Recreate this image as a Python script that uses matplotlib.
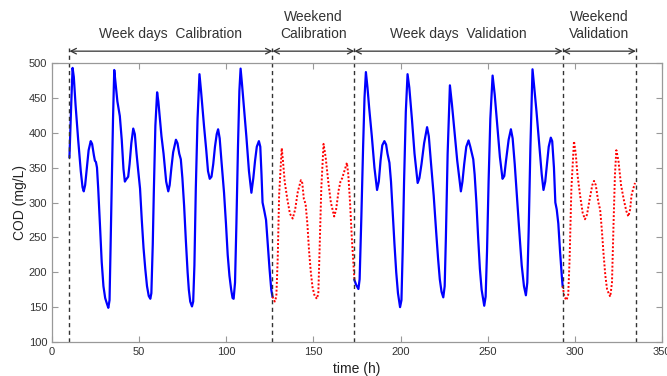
import matplotlib
matplotlib.use("Agg")
import matplotlib.pyplot as plt

plt.rcParams['font.family'] = ['Liberation Sans', 'DejaVu Sans']

# ---- data ----
calib_week_t = [10, 11, 11.8, 12.5, 13.5, 15, 16.5, 17.5, 18.2, 19, 20, 21, 22.2, 23, 24, 24.6, 25.2, 25.8,
                26.5, 27.5, 28.5, 29.5, 30.5, 31.5, 32.3, 33, 33.6, 34.3, 35, 35.7,
                36.5, 37.5, 38.9, 40, 41, 41.8, 42.5, 43.7, 44.5, 45.5, 46.6, 47.5, 48.5, 49.4, 50.5, 51.5,
                52.5, 53.5, 54.5, 55.5, 56.4, 57, 57.8, 58.4, 59.3, 60.3,
                61, 62.8, 64, 65.5, 66.7, 67.5, 68.5, 69.5, 71.1, 72, 73, 73.9, 74.8, 75.8, 76.8, 77.8, 78.5,
                79.3, 80.3, 81, 81.7, 82.5, 83.5, 84.6,
                85.5, 87.2, 88.5, 89.5, 90.5, 91.5, 92.5, 93.5, 94.5, 95.3, 96.2, 97.2, 98.7, 99.8, 100.8,
                101.8, 102.8, 103.6, 104.2, 105, 105.8, 106.7, 107.5, 108.2,
                109, 110, 111.5, 113, 114.4, 115.5, 116.5, 117.5, 118.7, 119.5, 120.2, 120.8, 121.8, 122.8,
                123.8, 124.8, 125.8, 126.5]
calib_week_v = [365, 440, 493, 480, 440, 390, 345, 322, 316, 325, 350, 375, 388, 384, 368, 360, 358, 350,
                320, 268, 215, 180, 163, 155, 149, 160, 237, 330, 420, 490,
                470, 445, 424, 390, 348, 330, 333, 337, 355, 385, 406, 398, 370, 347, 320, 275,
                235, 205, 180, 166, 162, 170, 240, 314, 410, 458,
                445, 395, 370, 330, 316, 325, 350, 372, 390, 385, 370, 362, 335, 295, 245, 200, 175,
                158, 151, 158, 210, 320, 420, 484,
                460, 410, 375, 345, 334, 337, 355, 380, 398, 405, 392, 360, 314, 270, 225,
                195, 175, 163, 162, 185, 270, 380, 460, 492,
                470, 440, 395, 345, 314, 335, 360, 380, 388, 380, 340, 300, 288, 275,
                240, 205, 175, 165]

calib_wkend_t = [126.5, 127.8, 128.7, 129.5, 130.3, 131.8, 132.5, 133.5, 135, 136.5, 138.1, 139.5, 141,
                 142.8, 143.6, 144.5, 145.5, 146.5, 147.5, 148.5, 149.5, 150.7, 152, 152.8, 153.5,
                 154.5, 155.8, 157, 158.5, 160, 161.9, 163, 164.5, 165.5, 166.5, 167.5, 169.2, 170,
                 171, 172, 173, 173.5]
calib_wkend_v = [165, 158, 165, 220, 310, 378, 360, 330, 305, 284, 277, 290, 315,
                 332, 328, 305, 298, 270, 230, 200, 178, 166, 162, 170, 230,
                 320, 384, 365, 330, 300, 280, 290, 318, 330, 335, 343, 357, 340,
                 300, 250, 210, 189]

valid_week_t = [173.5, 174.5, 175.8, 176.5, 177.5, 178.5, 179.3, 180.1,
                181, 182, 183.5, 185, 186.5, 187.5, 188.5, 189.5, 190.7, 191.7, 192.5, 193.6, 194.5,
                195.5, 196.5, 197.5, 198.5, 199.7, 200.5, 201.2, 202, 203, 204,
                205, 206.5, 208, 209.8, 210.8, 212, 213.5, 215.2, 216.2, 217.5, 219, 220.5, 221.5,
                222.5, 223.5, 224.5, 225.3, 226, 227, 228.3,
                229.5, 231, 232.5, 234.6, 235.5, 236.5, 237.7, 239, 240, 241.7, 242.5, 243.5, 244.5,
                245.5, 246.5, 248, 248.8, 249.6, 250.5, 251.5, 252.8,
                254, 255.5, 257, 258.5, 259.5, 260.5, 262, 263.3, 264.3, 265.5, 267, 268.5, 269.5,
                270.8, 271.9, 272.7, 273.5, 274.5, 275.7,
                276.7, 278, 279.5, 281, 282, 283, 284, 285, 286.2, 287, 288, 288.8, 289.6, 290.5,
                291.5, 292.5, 293]
valid_week_v = [189, 182, 176, 190, 280, 380, 450, 487,
                465, 435, 395, 350, 318, 330, 360, 382, 388, 383, 370, 357, 330,
                285, 240, 200, 170, 150, 160, 230, 330, 430, 484,
                465, 420, 370, 328, 335, 355, 385, 408, 395, 355, 310, 255, 220,
                190, 172, 164, 180, 250, 370, 468,
                440, 400, 360, 316, 330, 355, 380, 389, 380, 362, 340, 300, 250,
                205, 175, 152, 165, 230, 330, 420, 482,
                455, 410, 365, 334, 338, 360, 390, 405, 392, 355, 300, 245, 210,
                180, 167, 185, 260, 380, 491,
                465, 430, 385, 340, 318, 330, 355, 380, 393, 388, 350, 300, 290, 270,
                230, 195, 180]

valid_wkend_t = [293, 294, 295.2, 296.2, 297, 298, 299.5, 300.5, 301.5, 303, 304.5, 305.8, 307, 308.5,
                 310, 311, 312, 313.5, 314.5, 315.5, 316.5, 317.5, 318.5, 320.3, 321.3, 322.2, 323,
                 323.8, 325, 326.5, 328, 329.5, 330.7, 331.7, 332.5, 333.3, 334.5]
valid_wkend_v = [180, 165, 160, 168, 220, 320, 388, 370, 340, 310, 285, 276, 283, 305,
                 325, 331, 325, 300, 290, 260, 225, 195, 175, 165, 185, 270, 340,
                 375, 360, 325, 305, 288, 280, 290, 310, 318, 328]

boundaries = [10, 126.5, 173.5, 293, 335]
period_labels = ["Week days  Calibration", "Weekend\nCalibration",
                 "Week days  Validation", "Weekend\nValidation"]

xticks = [0, 50, 100, 150, 200, 250, 300, 350]
yticks = [100, 150, 200, 250, 300, 350, 400, 450, 500]

# ---- figure ----
fig = plt.figure(figsize=(6.67, 3.76), dpi=100)
ax = fig.add_axes([0.078, 0.0904, 0.9145, 0.742])

ax.plot(calib_week_t, calib_week_v, color='#0000ff', lw=1.6, solid_joinstyle='round')
ax.plot(valid_week_t, valid_week_v, color='#0000ff', lw=1.6, solid_joinstyle='round')
ax.plot(calib_wkend_t, calib_wkend_v, color='#ff0000', lw=1.4, ls=(0, (1, 1)))
ax.plot(valid_wkend_t, valid_wkend_v, color='#ff0000', lw=1.4, ls=(0, (1, 1)))

ax.set_xlim(0, 350)
ax.set_ylim(100, 500)
ax.set_xticks(xticks)
ax.set_yticks(yticks)
ax.tick_params(direction='in', length=4, width=0.8, colors='#999999', labelcolor='#333333',
               labelsize=8, top=True, right=True)
for s in ax.spines.values():
    s.set_color('#999999')
    s.set_linewidth(0.9)

ax.set_xlabel('time (h)', fontsize=10, color='#222222', labelpad=4)
ax.set_ylabel('COD (mg/L)', fontsize=10, color='#222222', labelpad=1)

arrow_y = 517
line_top = 521
for b in boundaries:
    ax.plot([b, b], [100, line_top], color='#333333', lw=1.0, ls=(0, (3, 2.5)), clip_on=False)

for i, lab in enumerate(period_labels):
    x0, x1 = boundaries[i], boundaries[i + 1]
    ax.annotate('', xy=(x0, arrow_y), xytext=(x1, arrow_y), xycoords='data',
                arrowprops=dict(arrowstyle='<->', color='#333333', lw=0.9,
                                shrinkA=0, shrinkB=0, mutation_scale=10),
                annotation_clip=False)
    ax.text((x0 + x1) / 2, 532, lab, ha='center', va='bottom', fontsize=10,
            color='#333333', linespacing=1.2, clip_on=False)

fig.savefig('out.png', dpi=100)
